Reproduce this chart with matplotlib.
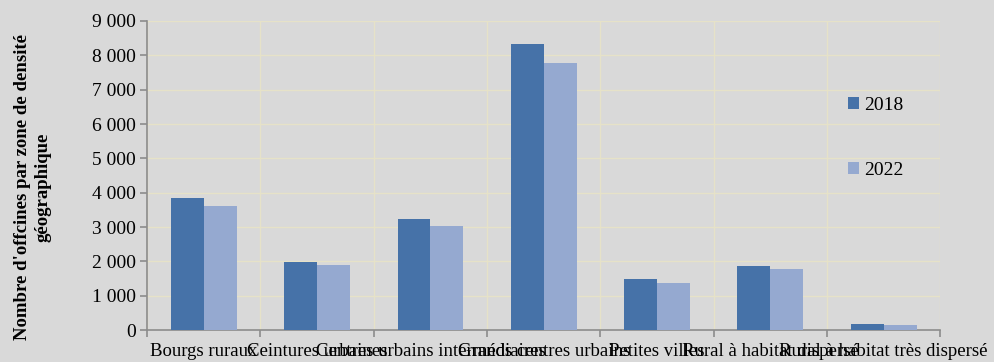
import numpy as np
import matplotlib.pyplot as plt
from matplotlib.ticker import FuncFormatter, MultipleLocator

plt.rcParams['font.family'] = ['Liberation Serif', 'DejaVu Serif']

categories = ["Bourgs ruraux", "Ceintures urbaines", "Centres urbains intermédiaires",
              "Grands centres urbains", "Petites villes", "Rural à habitat dispersé",
              "Rural à habitat très dispersé"]
val_2018 = [3840, 1985, 3235, 8330, 1480, 1875, 165]
val_2022 = [3610, 1890, 3030, 7770, 1365, 1770, 145]
series_labels = ["2018", "2022"]

bg = "#d9d9d9"
grid_col = "#e6e2c8"
axis_col = "#8c8c8c"

fig = plt.figure(figsize=(9.94, 3.62), dpi=100, facecolor=bg)
ax = fig.add_axes([0.148, 0.088, 0.798, 0.854], facecolor=bg)

x = np.arange(len(categories))
w = 0.29
ax.bar(x - w / 2, val_2018, w, color="#4672a8", label=series_labels[0], zorder=3)
ax.bar(x + w / 2, val_2022, w, color="#95a9d0", label=series_labels[1], zorder=3)

ax.set_xlim(-0.5, len(categories) - 0.5)
ax.set_ylim(0, 9000)
ax.yaxis.set_major_locator(MultipleLocator(1000))
ax.yaxis.set_major_formatter(FuncFormatter(lambda v, p: "{:,}".format(int(v)).replace(",", " ")))

# category boundaries: ticks + vertical grid
ax.set_xticks(np.arange(len(categories) + 1) - 0.5, minor=False)
ax.set_xticklabels([])
ax.set_xticks(x, minor=True)
ax.set_xticklabels(categories, minor=True, fontsize=13.5)
ax.tick_params(axis="x", which="minor", length=0, pad=9)
ax.tick_params(axis="x", which="major", length=5, color=axis_col, width=1.2)
ax.tick_params(axis="y", length=5, color=axis_col, width=1.2, labelsize=14, pad=3)

ax.grid(True, which="major", color=grid_col, linewidth=1, zorder=0)
for s in ["top", "right"]:
    ax.spines[s].set_visible(False)
for s in ["left", "bottom"]:
    ax.spines[s].set_color(axis_col)
    ax.spines[s].set_linewidth(1.2)

fig.text(0.033, 0.483, "Nombre d'offcines par zone de densité\ngéographique",
         rotation=90, ha="center", va="center", multialignment="center",
         fontsize=13.5, fontweight="bold", linespacing=1.3)

ax.legend(loc="upper left", bbox_to_anchor=(0.874, 0.779), frameon=False,
          fontsize=14, handlelength=0.55, handleheight=0.55, handletextpad=0.25,
          labelspacing=2.45, borderaxespad=0)

fig.savefig("out.png", dpi=100, facecolor=bg)
